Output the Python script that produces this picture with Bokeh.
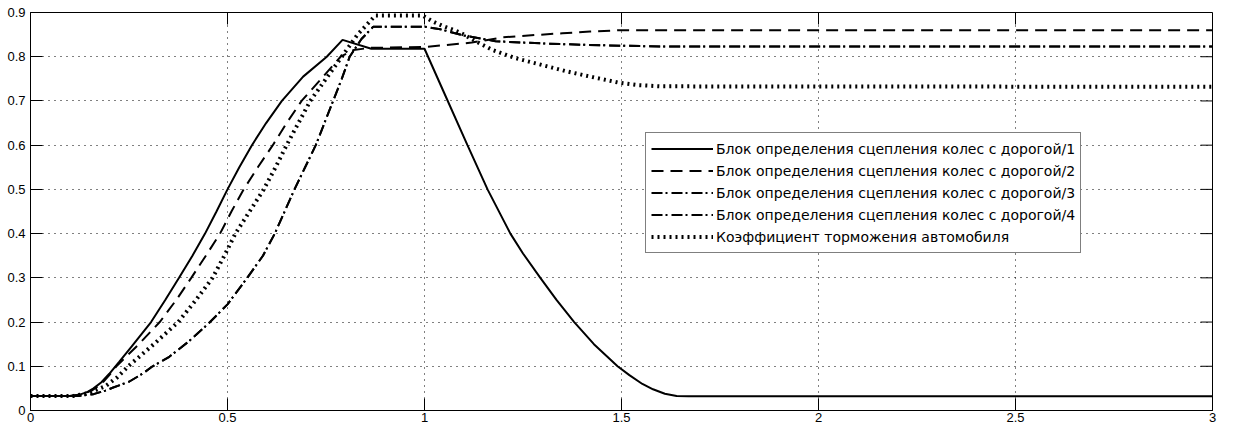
import math
from bokeh.plotting import figure
from bokeh.models import Range1d, FixedTicker, Legend, LegendItem
from bokeh.embed import file_html
from bokeh.resources import INLINE

# ---- data ----
x_min, x_max = 0, 3
y_min, y_max = 0, 0.9
x_ticks = [0, 0.5, 1, 1.5, 2, 2.5, 3]
x_tick_labels = ["0", "0.5", "1", "1.5", "2", "2.5", "3"]
y_ticks = [0, 0.1, 0.2, 0.3, 0.4, 0.5, 0.6, 0.7, 0.8, 0.9]
y_tick_labels = ["0", "0.1", "0.2", "0.3", "0.4", "0.5", "0.6", "0.7", "0.8", "0.9"]

series_labels = [
    "Блок определения сцепления колес с дорогой/1",
    "Блок определения сцепления колес с дорогой/2",
    "Блок определения сцепления колес с дорогой/3",
    "Блок определения сцепления колес с дорогой/4",
    "Коэффициент торможения автомобиля",
]

s1_x = [0, 0.10, 0.125, 0.145, 0.16, 0.18, 0.20, 0.225, 0.257, 0.306, 0.342, 0.377, 0.411, 0.443,
        0.472, 0.50, 0.53, 0.562, 0.598, 0.638, 0.692, 0.752, 0.792, 0.865, 1.0, 1.05, 1.109,
        1.16, 1.218, 1.25, 1.294, 1.335, 1.38, 1.43, 1.49, 1.52, 1.553, 1.58, 1.61, 1.64, 1.67, 3.0]
s1_y = [0.033, 0.033, 0.036, 0.042, 0.05, 0.064, 0.083, 0.11, 0.145, 0.20, 0.25, 0.30, 0.35, 0.40,
        0.45, 0.50, 0.55, 0.60, 0.65, 0.70, 0.755, 0.80, 0.838, 0.818, 0.818, 0.718, 0.60,
        0.50, 0.40, 0.355, 0.30, 0.25, 0.20, 0.15, 0.10, 0.08, 0.06, 0.048, 0.038, 0.033, 0.032, 0.032]

s2_x = [0, 0.10, 0.13, 0.155, 0.18, 0.20, 0.218, 0.275, 0.328, 0.37, 0.408, 0.445, 0.481, 0.51,
        0.541, 0.577, 0.615, 0.65, 0.688, 0.738, 0.787, 0.82, 0.86, 1.0, 1.05, 1.12, 1.2, 1.28,
        1.35, 1.42, 1.50, 3.0]
s2_y = [0.033, 0.033, 0.036, 0.045, 0.06, 0.08, 0.10, 0.15, 0.20, 0.25, 0.30, 0.35, 0.40, 0.45,
        0.50, 0.55, 0.60, 0.65, 0.70, 0.75, 0.80, 0.815, 0.82, 0.822, 0.826, 0.832, 0.844, 0.849,
        0.853, 0.857, 0.86, 0.86]

s3_x = [0, 0.12, 0.16, 0.19, 0.21, 0.25, 0.284, 0.31, 0.35, 0.40, 0.45, 0.50, 0.55, 0.59,
        0.62, 0.645, 0.67, 0.697, 0.724, 0.746, 0.768, 0.79, 0.81, 0.84, 0.87,
        1.0, 1.04, 1.10, 1.18, 1.3, 1.4, 1.5, 1.6, 3.0]
s3_y = [0.033, 0.033, 0.037, 0.045, 0.052, 0.065, 0.083, 0.10, 0.12, 0.155, 0.195, 0.24, 0.30, 0.35,
        0.40, 0.45, 0.50, 0.55, 0.60, 0.65, 0.70, 0.75, 0.80, 0.84, 0.868,
        0.868, 0.862, 0.848, 0.835, 0.83, 0.827, 0.825, 0.823, 0.823]

s4_x = [0, 0.12, 0.16, 0.19, 0.21, 0.25, 0.284, 0.31, 0.35, 0.40, 0.45, 0.50, 0.55, 0.59,
        0.62, 0.645, 0.67, 0.697, 0.724, 0.746, 0.768, 0.79, 0.81, 0.84, 0.87,
        1.0, 1.04, 1.10, 1.18, 1.3, 1.4, 1.5, 1.6, 3.0]
s4_y = [0.033, 0.033, 0.037, 0.045, 0.052, 0.065, 0.083, 0.10, 0.12, 0.155, 0.195, 0.24, 0.30, 0.35,
        0.40, 0.45, 0.50, 0.55, 0.60, 0.65, 0.70, 0.75, 0.80, 0.84, 0.868,
        0.868, 0.862, 0.848, 0.835, 0.83, 0.827, 0.825, 0.823, 0.823]

s5_x = [0, 0.11, 0.15, 0.19, 0.22, 0.248, 0.313, 0.375, 0.42, 0.462, 0.492, 0.52, 0.556, 0.592,
        0.622, 0.65, 0.68, 0.71, 0.75, 0.79, 0.83, 0.875, 0.995, 1.02, 1.045, 1.09, 1.13, 1.173,
        1.23, 1.30, 1.36, 1.426, 1.49, 1.54, 1.60, 3.0]
s5_y = [0.033, 0.033, 0.04, 0.055, 0.075, 0.10, 0.15, 0.20, 0.25, 0.30, 0.35, 0.40, 0.45, 0.50,
        0.55, 0.60, 0.65, 0.70, 0.75, 0.80, 0.85, 0.893, 0.893, 0.88, 0.87, 0.855, 0.835, 0.815,
        0.797, 0.781, 0.767, 0.754, 0.742, 0.736, 0.733, 0.732]

# ---- figure ----
p = figure(width=1217, height=426, x_range=Range1d(x_min, x_max), y_range=Range1d(y_min, y_max),
           output_backend="svg", toolbar_location=None,
           min_border_left=30, min_border_right=5, min_border_top=12, min_border_bottom=16)
p.background_fill_color = "white"
p.border_fill_color = "white"
p.outline_line_color = "black"
p.outline_line_width = 1

TICK_FONT = "Liberation Sans"

def style_axis(ax, ticks, labels):
    ax.ticker = FixedTicker(ticks=ticks)
    ax.major_label_overrides = {t: l for t, l in zip(ticks, labels)}
    ax.major_tick_in = 12
    ax.major_tick_out = 0
    ax.minor_tick_in = 0
    ax.minor_tick_out = 0
    ax.axis_line_color = "black"
    ax.major_tick_line_color = "black"
    ax.major_tick_line_width = 1
    ax.major_label_text_color = "black"
    ax.major_label_text_font = TICK_FONT
    ax.major_label_text_font_size = "13px"
    ax.major_label_standoff = 2

style_axis(p.xaxis[0], x_ticks, x_tick_labels)
style_axis(p.yaxis[0], y_ticks, y_tick_labels)
p.yaxis[0].major_label_standoff = 5

# inward tick marks on the top and right edges of the box
p.ray(x=x_ticks, y=[y_max] * len(x_ticks), length=12, length_units="screen",
      angle=-math.pi / 2, line_color="black", line_width=1)
p.ray(x=[x_max] * len(y_ticks), y=y_ticks, length=12, length_units="screen",
      angle=math.pi, line_color="black", line_width=1)

p.grid.grid_line_color = "black"
p.grid.grid_line_dash = "1 5"
p.grid.grid_line_width = 1

r1 = p.line(s1_x, s1_y, line_color="black", line_width=2)
r2 = p.line(s2_x, s2_y, line_color="black", line_width=2, line_dash="12 7")
r3 = p.line(s3_x, s3_y, line_color="black", line_width=2, line_dash="11 3 2 4")
r4 = p.line(s4_x, s4_y, line_color="black", line_width=2, line_dash="11 3 2 4")
r5 = p.line(s5_x, s5_y, line_color="black", line_width=4, line_dash="2 4", line_cap="butt")

items = [LegendItem(label=lab, renderers=[r]) for lab, r in zip(series_labels, [r1, r2, r3, r4, r5])]
legend = Legend(items=items, location=(615, 157))
legend.label_text_font = "DejaVu Sans"
legend.label_text_font_size = "14px"
legend.label_text_color = "black"
legend.border_line_color = "black"
legend.border_line_width = 1
legend.background_fill_color = "white"
legend.background_fill_alpha = 1
legend.padding = 5
legend.spacing = 1
legend.margin = 0
legend.glyph_width = 62
legend.glyph_height = 21
legend.label_height = 21
legend.label_standoff = 3
p.add_layout(legend)

open("out.html", "w").write(file_html(p, INLINE))
